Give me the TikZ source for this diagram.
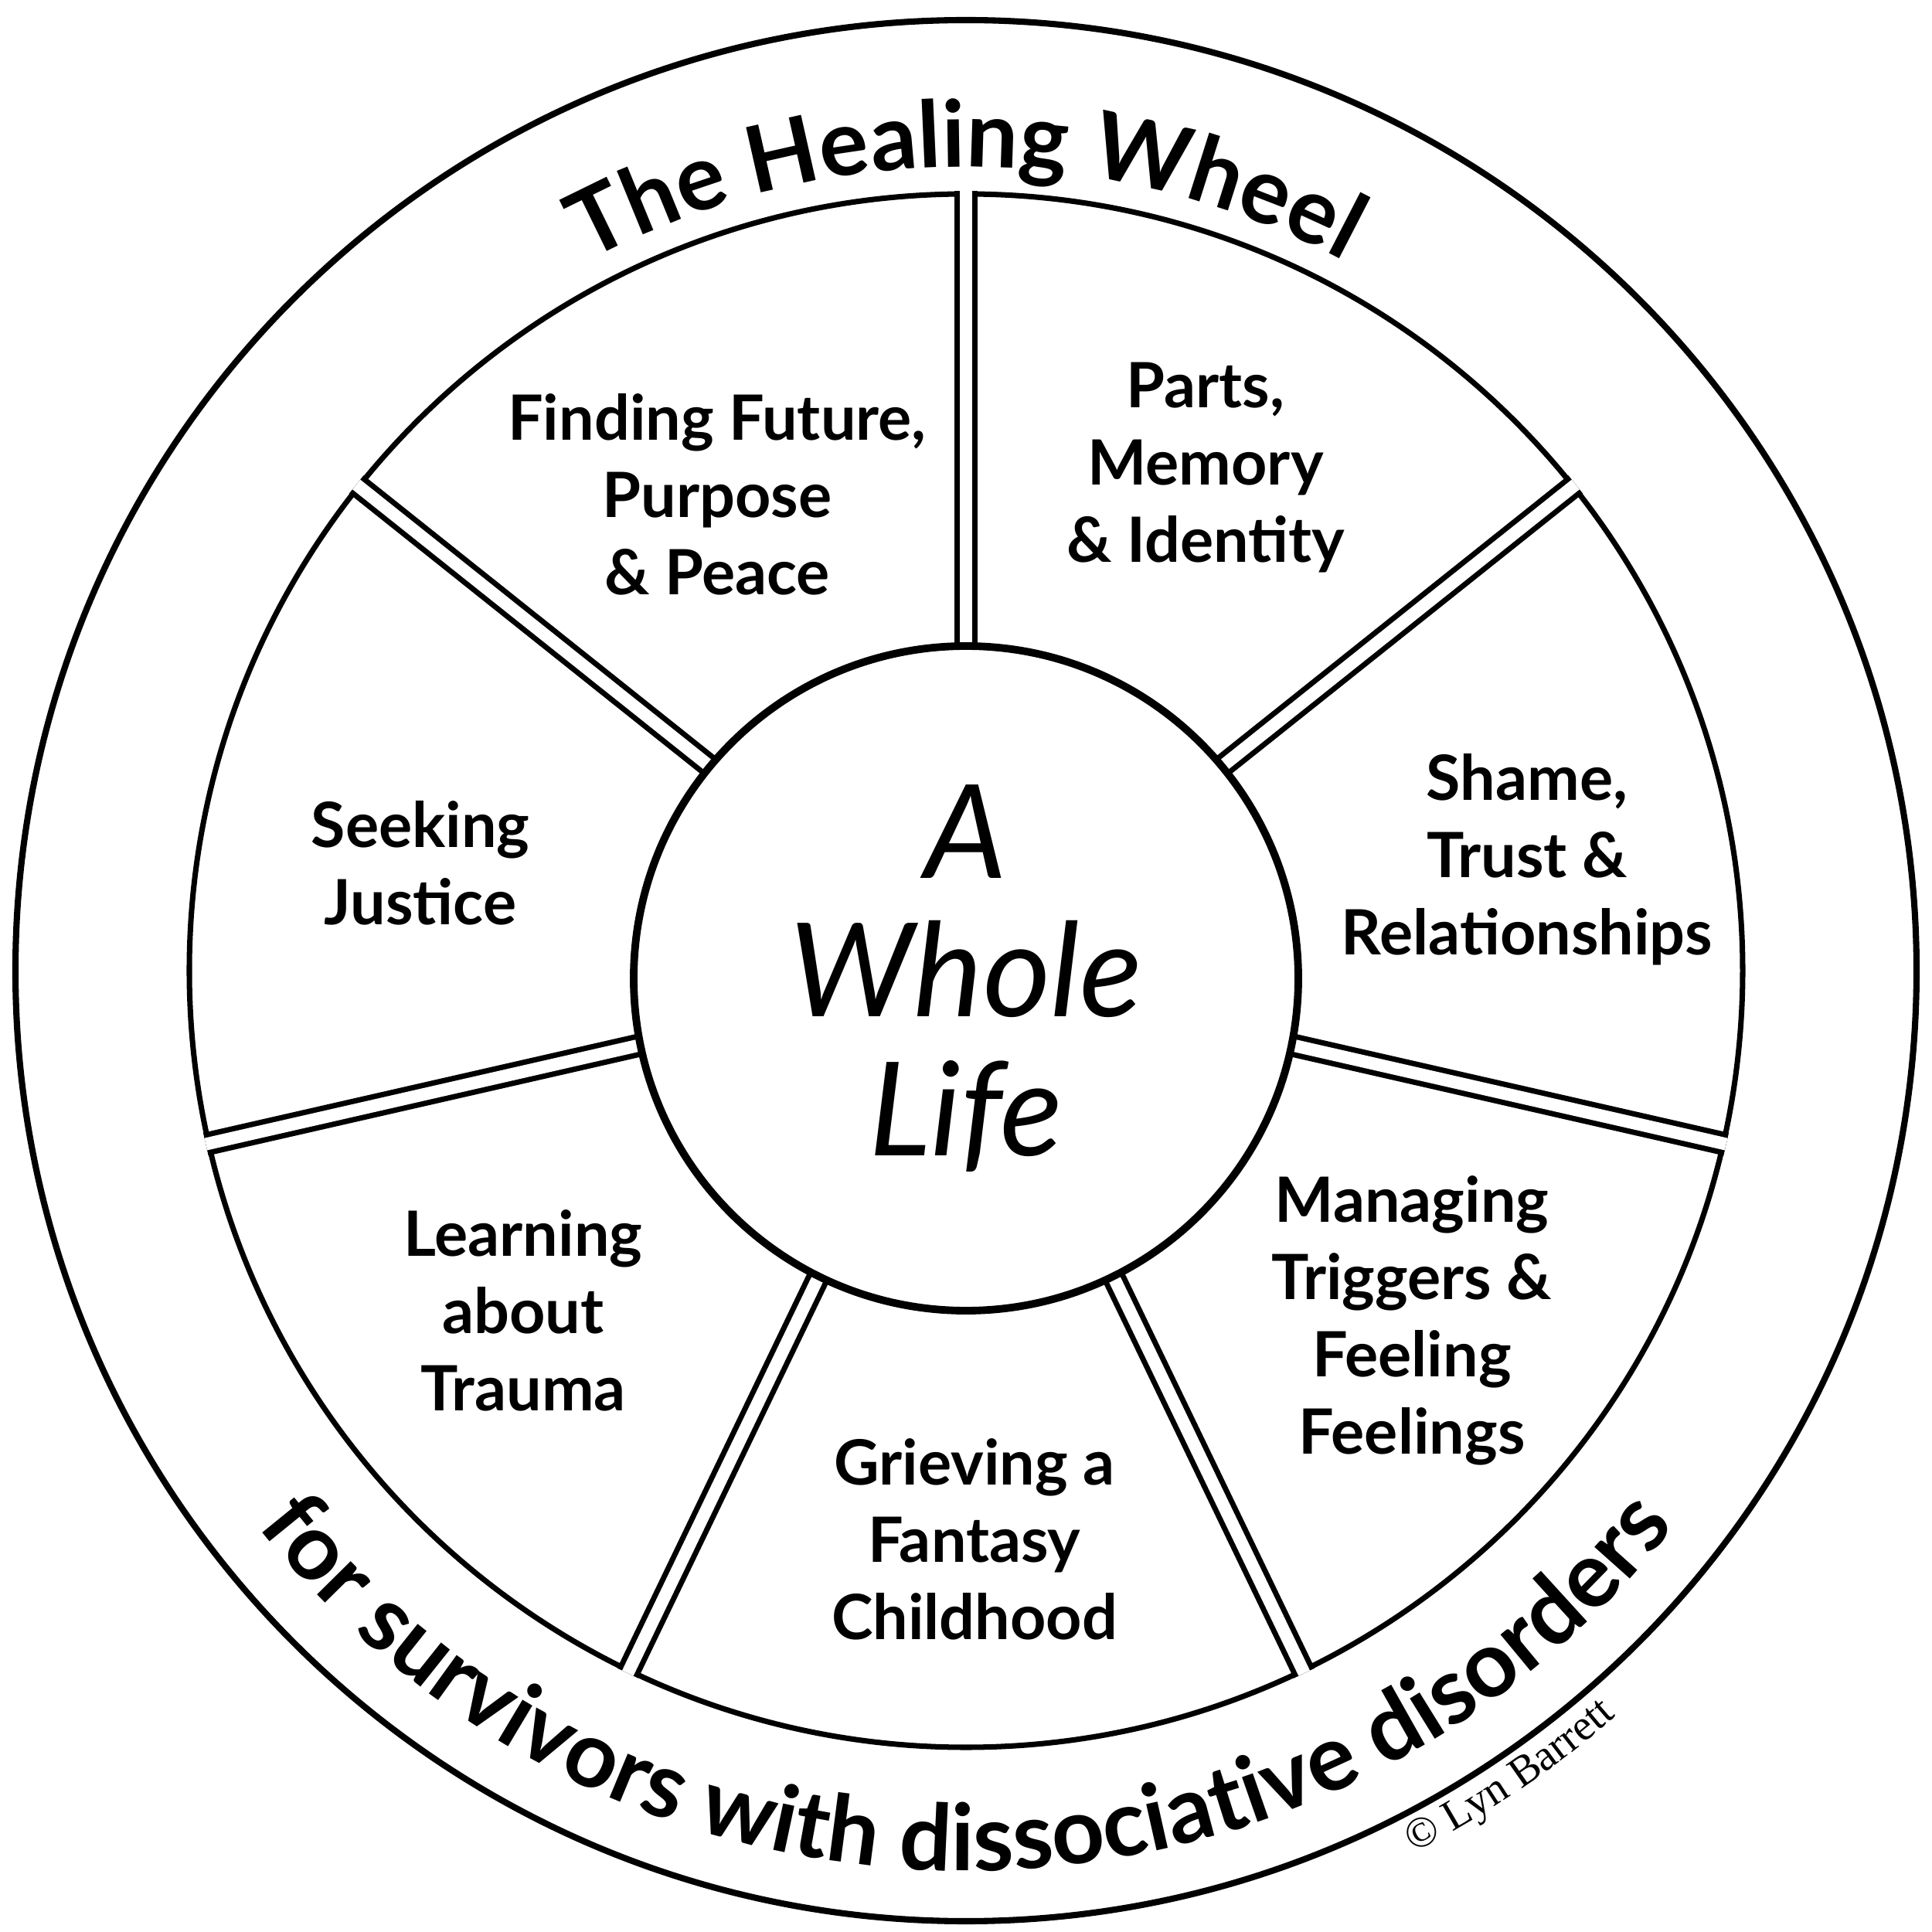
\documentclass[tikz,border=0pt]{standalone}
\usepackage{fontspec}
\setmainfont{Lato}
\newfontfamily\copyfont{Liberation Serif}
\usetikzlibrary{positioning,calc,decorations.text}

\tikzset{
    ring/.style={line width=2.3pt},
    spoke/.style={line width=2pt, double=white, double distance=4.6pt},
    topic/.style={align=center, font=\fontsize{23}{28.5}\selectfont\bfseries}
}

\begin{document}
\begin{tikzpicture}
    \useasboundingbox (-12.5,-12.44) rectangle (12.5,12.56);
    % outer and inner rings
    \draw[ring] (0,0) circle (12.3);
    \draw[line width=2pt] (0,0) circle (10.05);
    % spokes
    \foreach \a in {90,38.57,-12.86,-64.29,-115.71,-167.14,141.43}
        \draw[spoke] (0,0) -- (\a:10.09);
    % hub
    \node[circle, draw, line width=2.8pt, fill=white, minimum size=8.6cm,
          align=center, font=\fontsize{48}{51}\selectfont\itshape] (hub) at (0,-0.1)
          {A\\Whole\\Life};

    % segments
    \node[topic] (future)  at (-3.22,6.16) {Finding Future,\\Purpose\\\& Peace};
    \node[topic] (parts)   at (3.10,6.51)  {Parts,\\Memory\\\& Identity};
    \node[topic] (shame)   at (7.26,1.44)  {Shame,\\Trust \&\\Relationships};
    \node[topic] (trigger) at (5.77,-4.53) {Managing\\Triggers \&\\Feeling\\Feelings};
    \node[topic] (grief)   at (0.11,-7.36) {Grieving a\\Fantasy\\Childhood};
    \node[topic] (trauma)  at (-5.73,-4.40) {Learning\\about\\Trauma};
    \node[topic] (justice) at (-7.06,1.39) {Seeking\\Justice};

    % curved titles
    \path[decorate, decoration={text along path, text align=center,
        text={|\fontsize{34}{34}\selectfont\bfseries|The Healing Wheel}}]
        (119:10.4) arc[start angle=119, end angle=61, radius=10.4];
    \path[decorate, decoration={text along path, text align=center,
        text={|\fontsize{34}{34}\selectfont\bfseries|for survivors with dissociative disorders}}]
        (215:11.65) arc[start angle=215, end angle=325, radius=11.65];
    \path[decorate, decoration={text along path, text align=center,
        text={|\fontsize{16}{16}\selectfont\copyfont|© Lyn Barrett}}]
        (-66:12.8) arc[start angle=-66, end angle=-46, radius=12.8];
\end{tikzpicture}
\end{document}
